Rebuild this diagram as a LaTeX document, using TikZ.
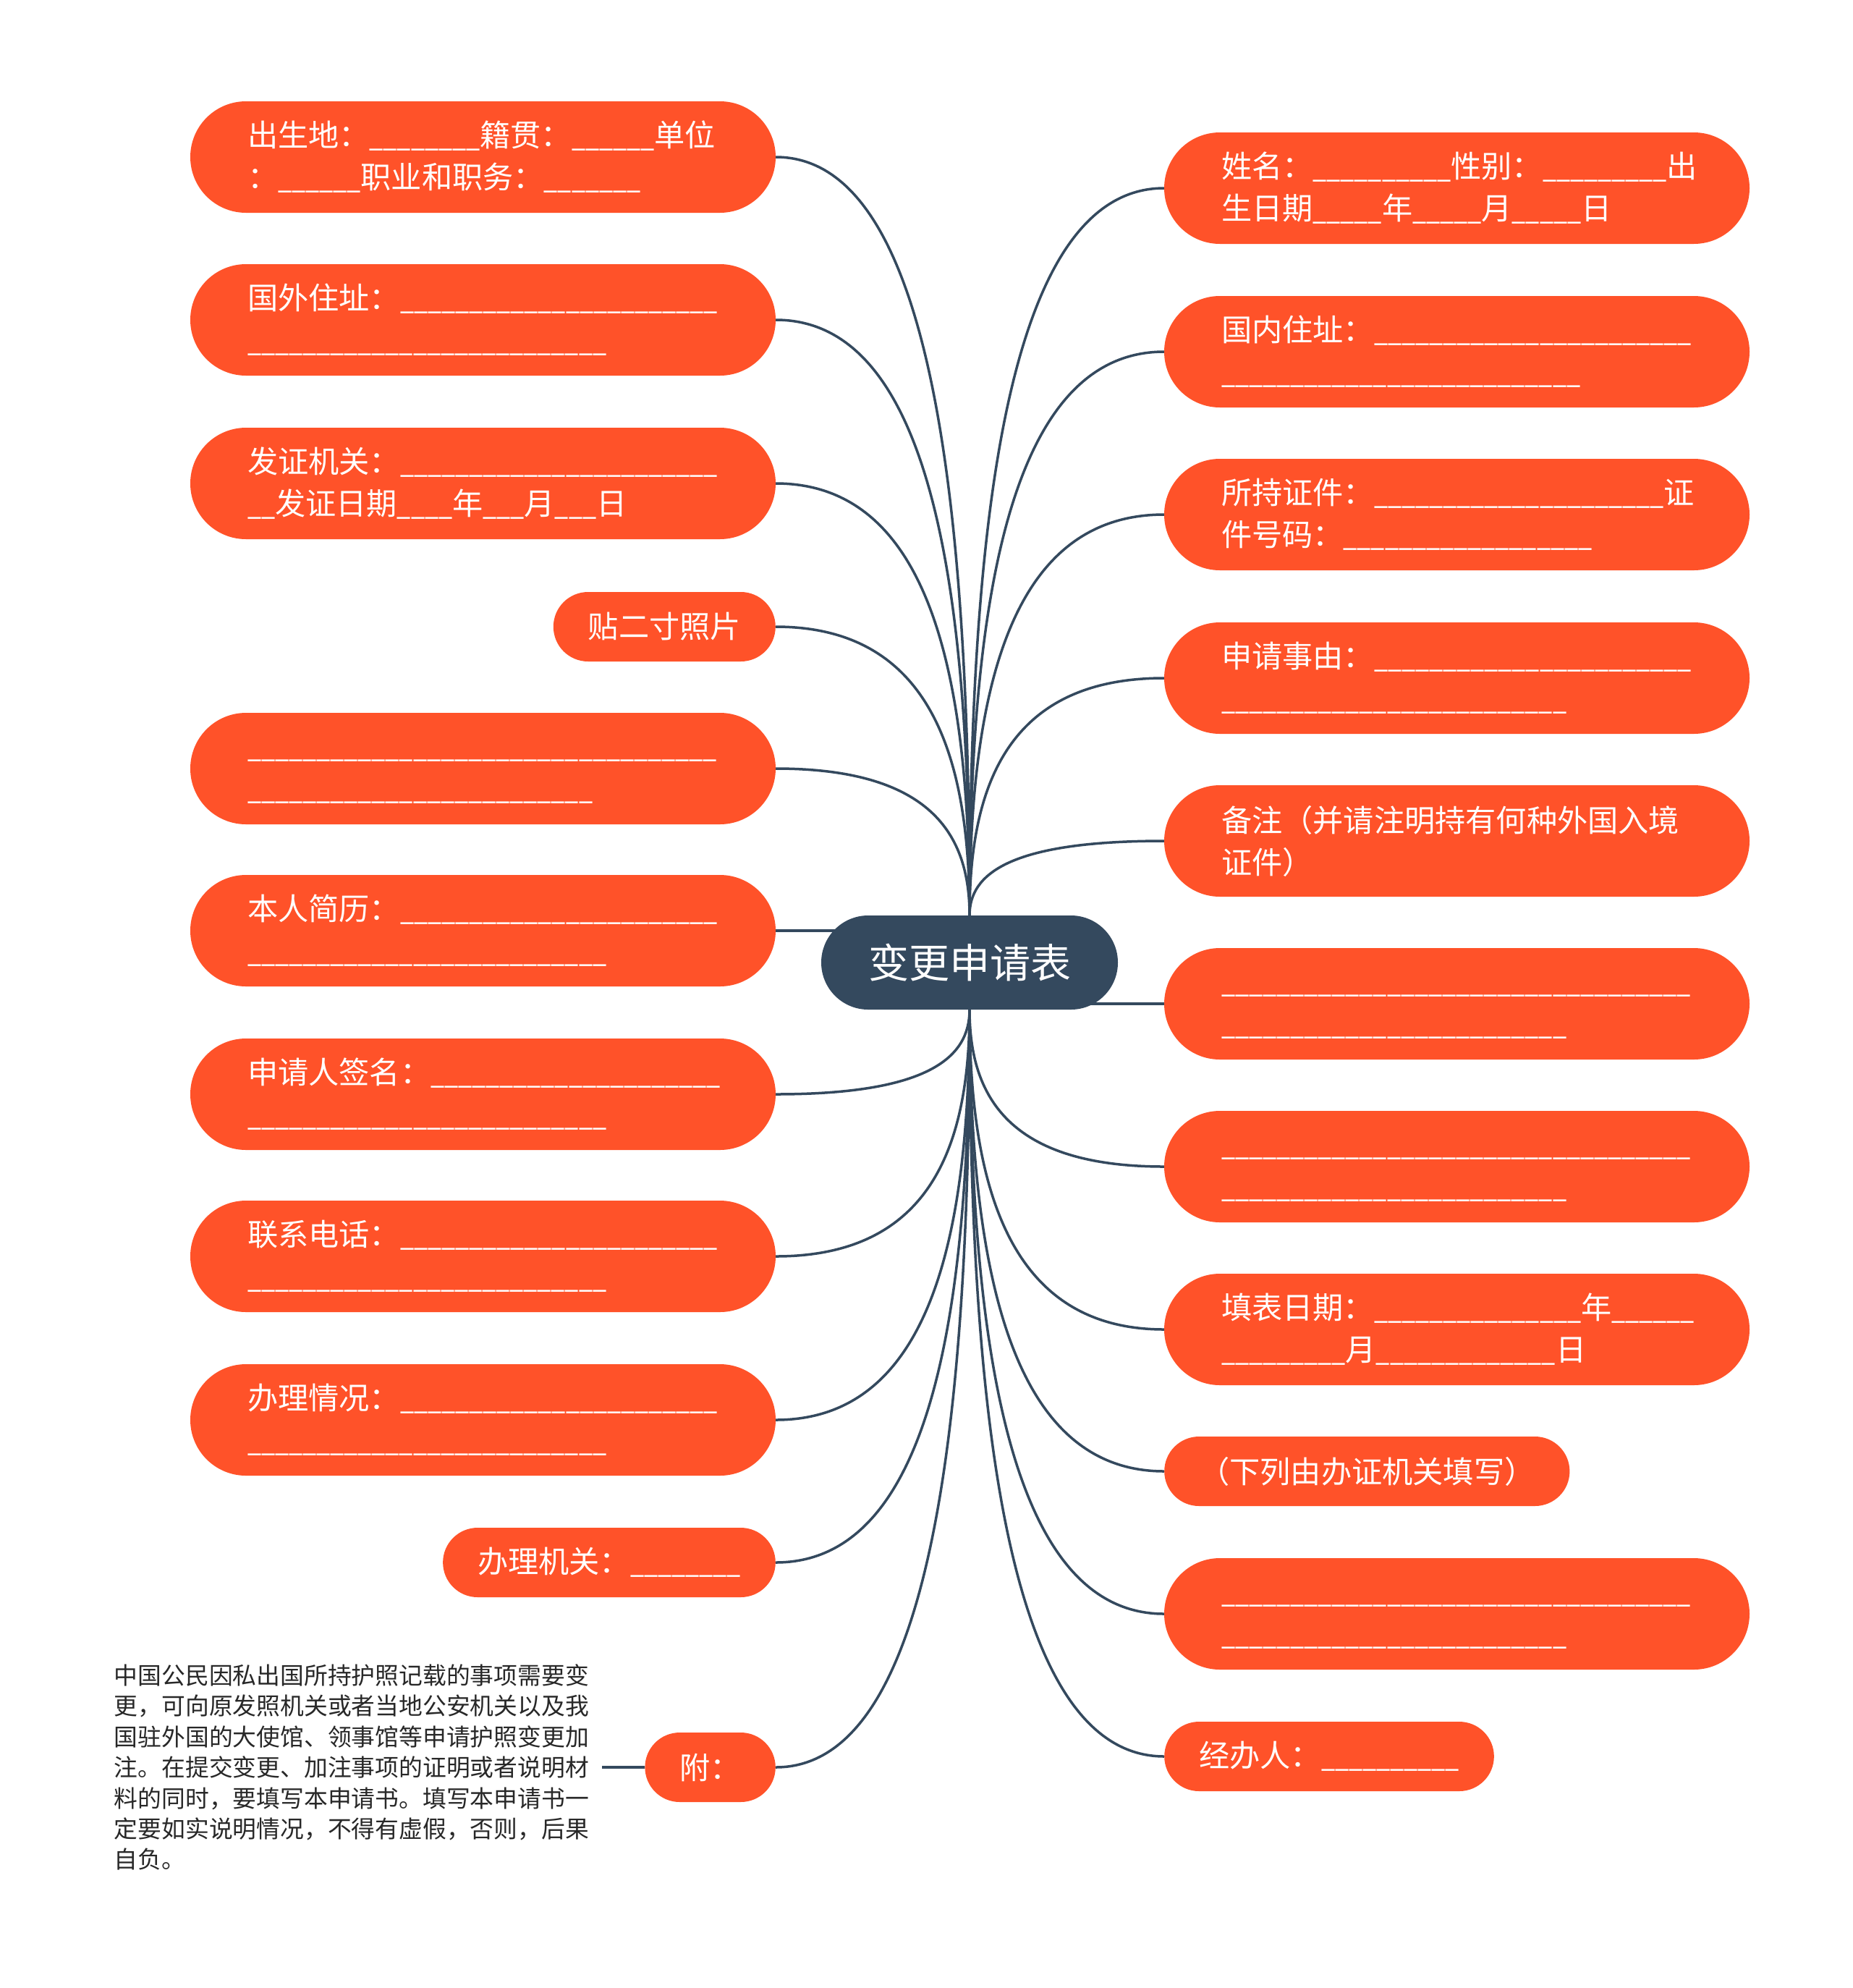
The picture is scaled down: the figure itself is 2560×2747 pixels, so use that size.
\documentclass[tikz,border=0pt]{standalone}
\usepackage{fontspec}
\newfontfamily\cjkfont{Noto Sans CJK SC}
\newfontfamily\uscfont{Noto Sans CJK SC}[FakeStretch=0.809]
\usetikzlibrary{calc,backgrounds}
\definecolor{leafred}{RGB}{255,82,41}
\definecolor{rootblue}{RGB}{52,73,94}
\definecolor{notegray}{RGB}{40,40,40}
\ExplSyntaxOn
\NewDocumentCommand\usc{m}{{\uscfont\prg_replicate:nn{#1}{\textunderscore}}}
\ExplSyntaxOff
\newcommand\ph{\vphantom{国}}
\newcommand\curvelink[2]{\draw[link] (#1) .. controls ($(#1)!0.8!(#1 -| #2)$) and ($(#2)!0.55!(#1 -| #2)$) .. (#2);}
\begin{document}
\begin{tikzpicture}[x=1pt,y=-1pt,
  leaf/.style={fill=leafred, text=white, font=\cjkfont\fontsize{42.2pt}{58pt}\selectfont, align=left, inner ysep=0pt},
  twoline/.style={leaf, rounded corners=77pt, minimum width=809pt, minimum height=154pt, text width=651pt, inner xsep=79pt},
  oneline/.style={leaf, rounded corners=48pt, minimum height=96pt, inner xsep=48pt},
  rootbox/.style={fill=rootblue, text=white, rounded corners=65pt, minimum width=410pt, minimum height=130pt, inner sep=0pt, font=\cjkfont\fontsize{56pt}{60pt}\selectfont},
  notebox/.style={text=notegray, font=\cjkfont\fontsize{32.8pt}{42.4pt}\selectfont, text width=656pt, align=left, inner sep=18pt},
  link/.style={draw=rootblue, line width=3.5pt}]
\useasboundingbox (0,0) rectangle (2560,2747);

% root
\node[rootbox] (c) at (1340,1330) {变更申请表};

% left side
\node[twoline] (L1) at (667.5,217) {出生地：\usc{8}籍贯：\usc{6}单位\\：\usc{6}职业和职务：\usc{7}};
\node[twoline] (L2) at (667.5,442) {国外住址：\usc{23}\\\ph\usc{26}};
\node[twoline] (L3) at (667.5,668) {发证机关：\usc{23}\\\usc{2}发证日期\usc{4}年\usc{3}月\usc{3}日};
\node[oneline, anchor=east] (L4) at (1072,866) {贴二寸照片};
\node[twoline] (L5) at (667.5,1062) {\ph\usc{34}\\\ph\usc{25}};
\node[twoline] (L6) at (667.5,1286) {本人简历：\usc{23}\\\ph\usc{26}};
\node[twoline] (L7) at (667.5,1512) {申请人签名：\usc{21}\\\ph\usc{26}};
\node[twoline] (L8) at (667.5,1736) {联系电话：\usc{23}\\\ph\usc{26}};
\node[twoline] (L9) at (667.5,1962) {办理情况：\usc{23}\\\ph\usc{26}};
\node[oneline, anchor=east] (L10) at (1072,2159) {办理机关：\usc{8}};
\node[oneline, anchor=east] (L11) at (1072,2442) {附：};
\node[notebox, anchor=east] (note) at (832,2442) {中国公民因私出国所持护照记载的事项需要变\\更，可向原发照机关或者当地公安机关以及我\\国驻外国的大使馆、领事馆等申请护照变更加\\注。在提交变更、加注事项的证明或者说明材\\料的同时，要填写本申请书。填写本申请书一\\定要如实说明情况，不得有虚假，否则，后果\\自负。};

% right side
\node[twoline] (R1) at (2013.5,260) {姓名：\usc{10}性别：\usc{9}出\\生日期\usc{5}年\usc{5}月\usc{5}日};
\node[twoline] (R2) at (2013.5,486) {国内住址：\usc{23}\\\ph\usc{26}};
\node[twoline] (R3) at (2013.5,711) {所持证件：\usc{21}证\\件号码：\usc{18}};
\node[twoline] (R4) at (2013.5,937) {申请事由：\usc{23}\\\ph\usc{25}};
\node[twoline] (R5) at (2013.5,1162) {备注（并请注明持有何种外国入境\\证件）};
\node[twoline] (R6) at (2013.5,1387) {\ph\usc{34}\\\ph\usc{25}};
\node[twoline] (R7) at (2013.5,1612) {\ph\usc{34}\\\ph\usc{25}};
\node[twoline] (R8) at (2013.5,1837) {填表日期：\usc{15}年\usc{6}\\\usc{9}月\usc{13}日};
\node[oneline, anchor=west] (R9) at (1609,2033) {（下列由办证机关填写）};
\node[twoline] (R10) at (2013.5,2230) {\ph\usc{34}\\\ph\usc{25}};
\node[oneline, anchor=west] (R11) at (1609,2427) {经办人：\usc{10}};

\begin{scope}[on background layer]
\fill[white] (0,0) rectangle (2560,2747);
\curvelink{L1.east}{c.north}
\curvelink{L2.east}{c.north}
\curvelink{L3.east}{c.north}
\curvelink{L4.east}{c.north}
\curvelink{L5.east}{c.north}
\draw[link] (L6.east) -- (L6.east -| c.center);
\curvelink{L7.east}{c.south}
\curvelink{L8.east}{c.south}
\curvelink{L9.east}{c.south}
\curvelink{L10.east}{c.south}
\curvelink{L11.east}{c.south}
\draw[link] (L11.west) -- (note.east);
\curvelink{R1.west}{c.north}
\curvelink{R2.west}{c.north}
\curvelink{R3.west}{c.north}
\curvelink{R4.west}{c.north}
\curvelink{R5.west}{c.north}
\draw[link] (R6.west) -- (R6.west -| c.center);
\curvelink{R7.west}{c.south}
\curvelink{R8.west}{c.south}
\curvelink{R9.west}{c.south}
\curvelink{R10.west}{c.south}
\curvelink{R11.west}{c.south}
\end{scope}
\end{tikzpicture}
\end{document}
